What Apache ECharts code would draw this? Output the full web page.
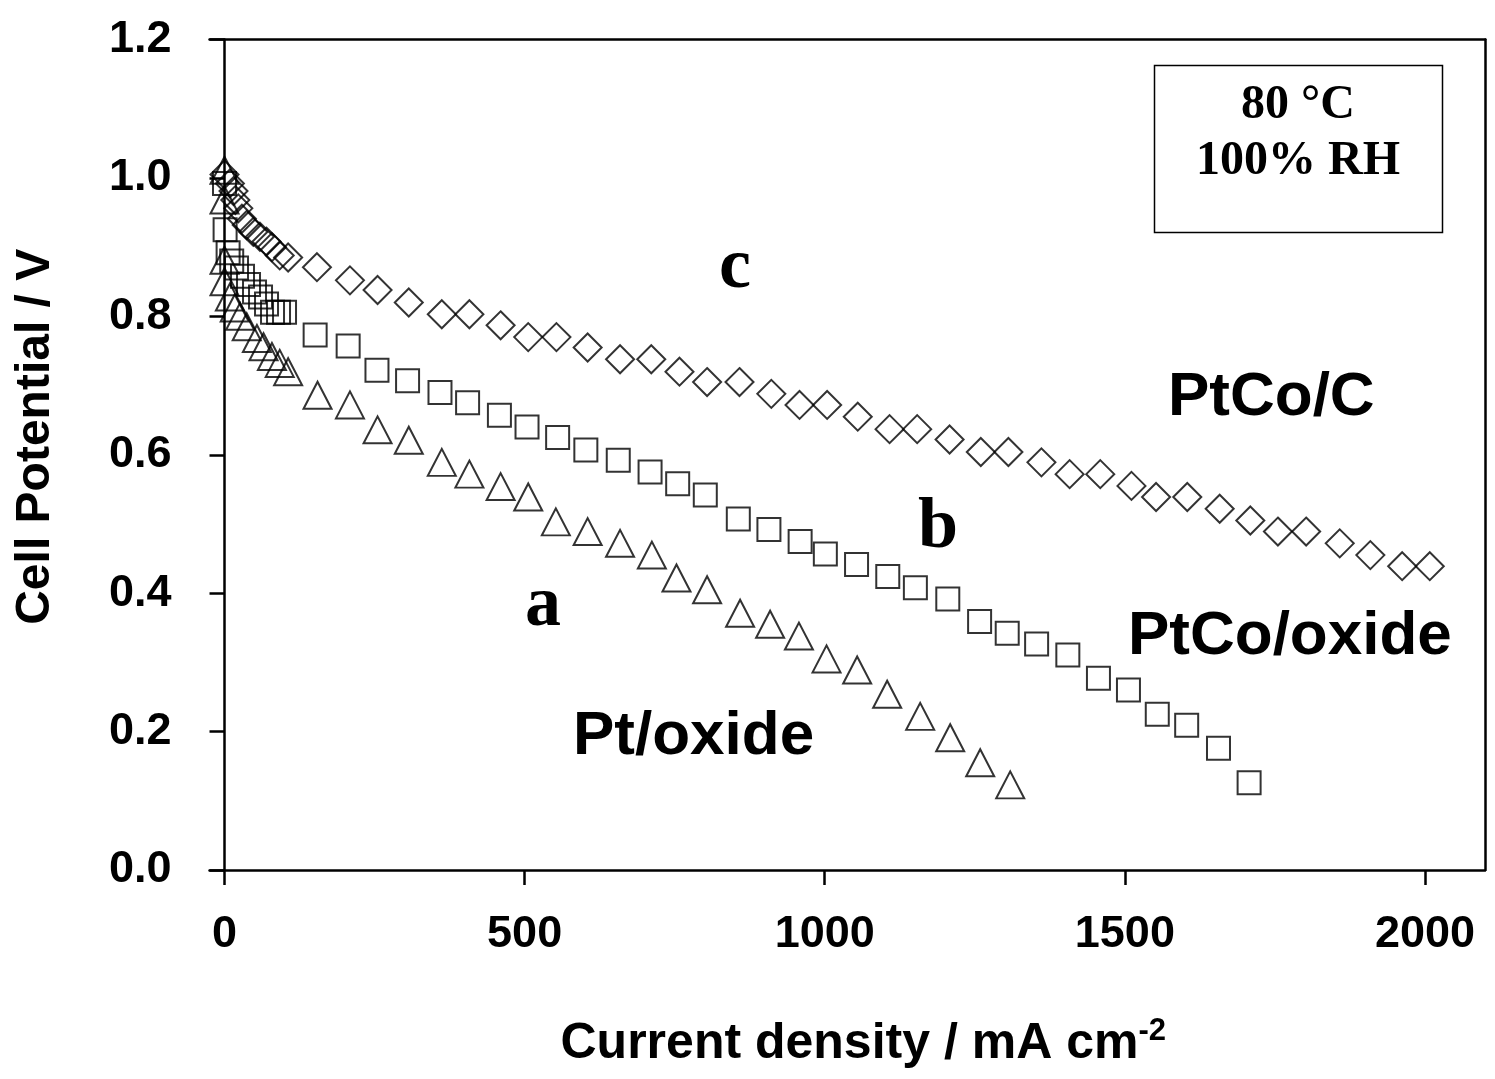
<!DOCTYPE html>
<html>
<head>
<meta charset="utf-8">
<script src="https://cdn.jsdelivr.net/npm/echarts@6/dist/echarts.min.js"></script>
<style>html,body{margin:0;padding:0;background:#fff}#c{width:1495px;height:1079px}</style>
</head>
<body>
<div id="c"></div>
<script>
// Series c: PtCo/C (diamonds)
const cX = [0, 9, 15, 18, 23, 29, 37, 48, 59, 70, 79, 92, 106, 154, 209, 255, 307, 362, 408, 460, 506, 553, 605, 659, 711, 758, 804, 858, 911, 958, 1004, 1055, 1108, 1154, 1208, 1260, 1306, 1361, 1408, 1459, 1511, 1552, 1604, 1658, 1709, 1755, 1802, 1858, 1909, 1962, 2008];
const cY = [1.005, 0.992, 0.981, 0.968, 0.956, 0.941, 0.932, 0.922, 0.915, 0.908, 0.900, 0.888, 0.885, 0.871, 0.852, 0.838, 0.820, 0.803, 0.803, 0.787, 0.770, 0.770, 0.755, 0.738, 0.738, 0.720, 0.705, 0.705, 0.688, 0.672, 0.672, 0.655, 0.637, 0.637, 0.622, 0.604, 0.604, 0.589, 0.572, 0.572, 0.555, 0.539, 0.539, 0.522, 0.505, 0.489, 0.489, 0.472, 0.455, 0.439, 0.439];
// Series b: PtCo/oxide (squares)
const bX = [0, 1, 6, 12, 20, 30, 40, 50, 60, 70, 80, 90, 100, 151, 206, 254, 305, 359, 405, 458, 504, 555, 602, 656, 709, 755, 801, 856, 907, 959, 1001, 1053, 1105, 1151, 1205, 1258, 1304, 1353, 1405, 1456, 1506, 1554, 1603, 1656, 1707];
const bY = [0.992, 0.925, 0.892, 0.880, 0.870, 0.858, 0.846, 0.835, 0.828, 0.818, 0.806, 0.806, 0.806, 0.773, 0.757, 0.722, 0.707, 0.690, 0.675, 0.657, 0.640, 0.625, 0.607, 0.592, 0.575, 0.558, 0.542, 0.507, 0.492, 0.4745, 0.4565, 0.4415, 0.424, 0.408, 0.3915, 0.359, 0.342, 0.3265, 0.3105, 0.277, 0.260, 0.225, 0.209, 0.176, 0.126];
// Series a: Pt/oxide (triangles)
const aX = [0, 0, 0, 0, 9, 17, 26, 37, 54, 65, 79, 92, 106, 155, 209, 255, 307, 362, 408, 460, 506, 552, 605, 659, 712, 753, 804, 859, 909, 957, 1003, 1054, 1104, 1159, 1209, 1259, 1309];
const aY = [1.011, 0.968, 0.881, 0.850, 0.828, 0.812, 0.800, 0.785, 0.768, 0.756, 0.742, 0.732, 0.720, 0.686, 0.672, 0.636, 0.621, 0.589, 0.572, 0.554, 0.539, 0.503, 0.489, 0.472, 0.455, 0.422, 0.405, 0.371, 0.355, 0.338, 0.305, 0.289, 0.254, 0.222, 0.191, 0.155, 0.123];

const xTicks = [0, 500, 1000, 1500, 2000];
const yTicks = [0, 0.2, 0.4, 0.6, 0.8, 1.0, 1.2];

const zip = (xs, ys) => xs.map((x, i) => [x, ys[i]]);
const SANS = "Arial, 'Liberation Sans', sans-serif";
const SERIF = "'Times New Roman', 'Liberation Serif', serif";
const markStyle = { color: 'rgba(0,0,0,0)', borderColor: '#000', borderWidth: 2 };

const chart = echarts.init(document.getElementById('c'), null, { renderer: 'canvas' });
chart.setOption({
  backgroundColor: '#fff',
  animation: false,
  grid: { left: 209.5, top: 39.5, width: 1275.5, height: 830.5, containLabel: false },
  xAxis: [{
    type: 'value', min: -25, max: 2100,
    axisLine: { show: true, lineStyle: { color: '#000', width: 2.5 } },
    axisTick: { show: true, inside: false, length: 15, lineStyle: { color: '#000', width: 2.5 }, customValues: xTicks },
    axisLabel: { show: true, margin: 42, color: '#000', fontFamily: SANS, fontWeight: 'bold', fontSize: 45, customValues: xTicks, formatter: v => String(v) },
    splitLine: { show: false },
    name: 'Current density / mA cm{sup|-2}',
    nameLocation: 'middle', nameGap: 146,
    nameTextStyle: {
      color: '#000', fontFamily: SANS, fontWeight: 'bold', fontSize: 50, padding: [0, 0, 0, 32],
      rich: { sup: { color: '#000', fontFamily: SANS, fontWeight: 'bold', fontSize: 31, verticalAlign: 'top', padding: [0, 0, 26, 0] } }
    }
  }, {
    type: 'value', min: -25, max: 2100, position: 'top',
    axisLine: { show: true, onZero: false, lineStyle: { color: '#000', width: 2.5 } },
    axisTick: { show: false }, axisLabel: { show: false }, splitLine: { show: false }
  }],
  yAxis: [{
    type: 'value', min: 0, max: 1.2, interval: 0.2,
    axisLine: { show: true, onZero: true, lineStyle: { color: '#000', width: 2.5 } },
    axisTick: { show: true, inside: false, length: 15, lineStyle: { color: '#000', width: 2.5 } },
    axisLabel: { show: true, margin: 38, color: '#000', fontFamily: SANS, fontWeight: 'bold', fontSize: 45, formatter: v => v.toFixed(1) },
    splitLine: { show: false },
    name: 'Cell Potential / V',
    nameLocation: 'middle', nameGap: 150,
    nameTextStyle: { color: '#000', fontFamily: SANS, fontWeight: 'bold', fontSize: 48, padding: [0, 0, 0, 36] }
  }, {
    type: 'value', min: 0, max: 1.2, position: 'right',
    axisLine: { show: true, onZero: false, lineStyle: { color: '#000', width: 2.5 } },
    axisTick: { show: false }, axisLabel: { show: false }, splitLine: { show: false }
  }],
  series: [
    { name: 'c', type: 'scatter', symbol: 'diamond', symbolSize: 28, data: zip(cX, cY), itemStyle: markStyle, clip: false },
    { name: 'b', type: 'scatter', symbol: 'rect', symbolSize: 23, data: zip(bX, bY), itemStyle: markStyle, clip: false },
    { name: 'a', type: 'scatter', symbol: 'triangle', symbolSize: [28, 27], data: zip(aX, aY), itemStyle: markStyle, clip: false }
  ],
  graphic: [
    { type: 'rect', shape: { x: 1154.5, y: 65.5, width: 288, height: 167 }, style: { fill: 'none', stroke: '#000', lineWidth: 1.5 } },
    { type: 'text', style: { text: '80 °C', x: 1298, y: 106, font: "bold 48px " + SERIF, fill: '#000', align: 'center', verticalAlign: 'middle', textAlign: 'center', textVerticalAlign: 'middle' } },
    { type: 'text', style: { text: '100% RH', x: 1298, y: 162, font: "bold 48px " + SERIF, fill: '#000', align: 'center', verticalAlign: 'middle', textAlign: 'center', textVerticalAlign: 'middle' } },
    { type: 'text', style: { text: 'c', x: 719, y: 268, font: "bold 72px " + SERIF, fill: '#000', align: 'left', verticalAlign: 'middle', textAlign: 'left', textVerticalAlign: 'middle' } },
    { type: 'text', style: { text: 'b', x: 918, y: 528, font: "bold 72px " + SERIF, fill: '#000', align: 'left', verticalAlign: 'middle', textAlign: 'left', textVerticalAlign: 'middle' } },
    { type: 'text', style: { text: 'a', x: 525, y: 606, font: "bold 72px " + SERIF, fill: '#000', align: 'left', verticalAlign: 'middle', textAlign: 'left', textVerticalAlign: 'middle' } },
    { type: 'text', style: { text: 'PtCo/C', x: 1168, y: 398, font: "bold 62px " + SANS, fill: '#000', align: 'left', verticalAlign: 'middle', textAlign: 'left', textVerticalAlign: 'middle' } },
    { type: 'text', style: { text: 'PtCo/oxide', x: 1128, y: 637, font: "bold 62px " + SANS, fill: '#000', align: 'left', verticalAlign: 'middle', textAlign: 'left', textVerticalAlign: 'middle' } },
    { type: 'text', style: { text: 'Pt/oxide', x: 573, y: 737, font: "bold 62px " + SANS, fill: '#000', align: 'left', verticalAlign: 'middle', textAlign: 'left', textVerticalAlign: 'middle' } }
  ]
});
</script>
</body>
</html>
